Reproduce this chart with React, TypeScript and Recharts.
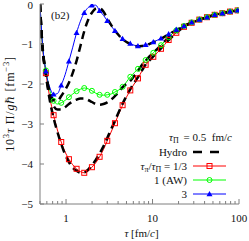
import React from 'react'
import { LineChart, Line, XAxis, YAxis, Label } from 'recharts'

// tau grid [fm/c], log-spaced; every marker point plus half steps early on
const tau = [
  0.5, 0.528, 0.585, 0.648, 0.718, 0.795, 0.88, 0.975, 1.08, 1.196, 1.324, 1.467, 1.624, 1.799,
  1.992, 2.206, 2.444, 2.706, 2.998, 3.32, 3.677, 4.073, 4.51, 4.995, 5.533, 6.127, 6.786, 7.516,
  8.325, 9.22, 10.21, 12.53, 15.36, 18.84, 23.11, 28.35, 34.78, 42.66, 52.33, 64.19, 78.74, 96.5, 100,
]
// points that carry a symbol
const markTau = [
  0.585, 0.718, 0.88, 1.08, 1.324, 1.624, 1.992, 2.444, 2.998, 3.677, 4.51, 5.533, 6.786, 8.325,
  10.21, 12.53, 15.36, 18.84, 23.11, 28.35, 34.78, 42.66, 52.33, 64.19, 78.74, 96.5,
]

// tau_pi/tau_Pi = 1/3
const kinRed = [
  0, -0.92, -1.73, -2.33, -2.78, -3.15, -3.45, -3.7, -3.88, -4.02, -4.12, -4.19, -4.22, -4.18,
  -4.08, -3.97, -3.82, -3.64, -3.42, -3.2, -2.98, -2.75, -2.53, -2.33, -2.16, -2.0, -1.86, -1.68,
  -1.52, -1.42, -1.32, -1.12, -0.9, -0.72, -0.57, -0.47, -0.39, -0.33, -0.27, -0.23, -0.19, -0.16, -0.155,
]
const hydroRed = [
  0, -0.95, -1.78, -2.4, -2.85, -3.2, -3.5, -3.76, -3.95, -4.09, -4.17, -4.22, -4.21, -4.14,
  -4.03, -3.9, -3.74, -3.56, -3.35, -3.13, -2.92, -2.7, -2.49, -2.3, -2.13, -1.97, -1.83, -1.67,
  -1.51, -1.41, -1.31, -1.11, -0.9, -0.72, -0.57, -0.47, -0.39, -0.33, -0.27, -0.23, -0.19, -0.16, -0.155,
]
// 1 (AW)
const kinGreen = [
  0, -0.88, -1.66, -2.15, -2.42, -2.5, -2.47, -2.41, -2.33, -2.25, -2.18, -2.13, -2.1, -2.12,
  -2.17, -2.23, -2.27, -2.28, -2.27, -2.25, -2.2, -2.15, -2.07, -1.95, -1.82, -1.72, -1.62, -1.5,
  -1.4, -1.31, -1.22, -1.03, -0.83, -0.66, -0.55, -0.46, -0.39, -0.33, -0.27, -0.23, -0.19, -0.16, -0.155,
]
const hydroGreen = [
  0, -0.92, -1.75, -2.28, -2.55, -2.64, -2.64, -2.58, -2.5, -2.44, -2.39, -2.36, -2.36, -2.4,
  -2.45, -2.5, -2.52, -2.5, -2.46, -2.39, -2.3, -2.2, -2.08, -2.0, -1.92, -1.8, -1.68, -1.53,
  -1.42, -1.31, -1.22, -1.03, -0.83, -0.66, -0.55, -0.46, -0.39, -0.33, -0.27, -0.23, -0.19, -0.16, -0.155,
]
// 3
const kinBlue = [
  0, -0.85, -1.68, -2.08, -2.26, -2.24, -2.03, -1.77, -1.43, -1.08, -0.72, -0.43, -0.22, -0.09,
  -0.03, -0.03, -0.17, -0.28, -0.42, -0.55, -0.67, -0.78, -0.87, -0.94, -0.99, -1.03, -1.05, -1.04,
  -1.02, -0.99, -0.95, -0.86, -0.75, -0.64, -0.55, -0.46, -0.39, -0.33, -0.27, -0.23, -0.19, -0.16, -0.155,
]
const hydroBlue = [
  0, -0.9, -1.72, -2.2, -2.4, -2.42, -2.3, -2.15, -1.97, -1.72, -1.42, -1.05, -0.68, -0.4,
  -0.22, -0.12, -0.11, -0.19, -0.36, -0.52, -0.66, -0.78, -0.88, -0.95, -1.0, -1.04, -1.06, -1.05,
  -1.03, -1.0, -0.96, -0.87, -0.76, -0.65, -0.55, -0.47, -0.4, -0.33, -0.28, -0.23, -0.19, -0.16, -0.155,
]

const xTicks = [0.5, 0.6, 0.7, 0.8, 0.9, 1, 2, 3, 4, 5, 6, 7, 8, 9, 10, 20, 30, 40, 50, 60, 70, 80, 90, 100]
const xLabels = [1, 10, 100]
const yTicks = [-5, -4, -3, -2, -1, 0]

const data = tau.map((t, i) => ({
  tau: t,
  kinRed: kinRed[i],
  hydroRed: hydroRed[i],
  kinGreen: kinGreen[i],
  hydroGreen: hydroGreen[i],
  kinBlue: kinBlue[i],
  hydroBlue: hydroBlue[i],
}))

const FRAME = '#7f7f7f'
const RED = '#ff0000'
const GREEN = '#00ff00'
const BLUE = '#0000ff'
const SERIF = '"Liberation Serif", "DejaVu Serif", serif'
const DASH = '8 5'

const fmt = (v: number) => (v < 0 ? '\u2212' + Math.abs(v) : String(v))

const BottomTick = (props: any) => {
  const { x, y, payload } = props
  const major = xLabels.includes(payload.value)
  return (
    <g>
      <line x1={x} x2={x} y1={y} y2={y - (major ? 5 : 3)} stroke={FRAME} />
      {major && (
        <text x={x} y={y + 18} textAnchor='middle' fontFamily={SERIF} fontSize={11} fill='#111'>
          {payload.value}
        </text>
      )}
    </g>
  )
}

const TopTick = (props: any) => {
  const { x, y, payload } = props
  const major = xLabels.includes(payload.value)
  return <line x1={x} x2={x} y1={y} y2={y + (major ? 5 : 3)} stroke={FRAME} />
}

const LeftTick = (props: any) => {
  const { x, y, payload } = props
  return (
    <g>
      <line x1={x} x2={x + 4} y1={y} y2={y} stroke={FRAME} />
      <text x={x - 7} y={Math.max(y + 4, 9)} textAnchor='end' fontFamily={SERIF} fontSize={11} fill='#111'>
        {fmt(payload.value)}
      </text>
    </g>
  )
}

const RightTick = (props: any) => {
  const { x, y } = props
  return <line x1={x} x2={x - 4} y1={y} y2={y} stroke={FRAME} />
}

const marker = (shape: string, color: string) => (p: any) => {
  const k = `${shape}-${p.index}`
  if (p.cx == null || p.cy == null || !markTau.includes(p.payload.tau)) return <g key={k} />
  return <Symbol key={k} shape={shape} color={color} cx={p.cx} cy={p.cy} />
}

const Symbol = ({ shape, color, cx, cy }: any) => {
  if (shape === 'square')
    return <rect x={cx - 2.5} y={cy - 2.5} width={5} height={5} fill='none' stroke={color} strokeWidth={1} />
  if (shape === 'circle') return <circle cx={cx} cy={cy} r={2.5} fill='none' stroke={color} strokeWidth={1} />
  return <path d={`M${cx},${cy - 3}L${cx + 3},${cy + 2.2}L${cx - 3},${cy + 2.2}Z`} fill={color} />
}

const YTitle = (props: any) => {
  const vb = props.viewBox
  const cx = vb.x + 10
  const cy = vb.y + vb.height / 2
  return (
    <text
      x={cx}
      y={cy}
      transform={`rotate(-90 ${cx} ${cy})`}
      textAnchor='middle'
      dominantBaseline='central'
      fontFamily={SERIF}
      fontSize={12}
      letterSpacing={0.8}
      fill='#111'
    >
      10
      <tspan fontSize={8.5} dy={-4}>3</tspan>
      <tspan fontStyle='italic' dy={4}>τ</tspan>
      <tspan> Π/</tspan>
      <tspan fontStyle='italic'>gℏ</tspan>
      <tspan> [fm</tspan>
      <tspan fontSize={8.5} dy={-4}>−3</tspan>
      <tspan dy={4}>]</tspan>
    </text>
  )
}

const XTitle = (props: any) => {
  const vb = props.viewBox
  return (
    <text x={vb.x + vb.width / 2 + 2} y={vb.y + 33} textAnchor='middle' fontFamily={SERIF} fontSize={11} fill='#111'>
      <tspan fontStyle='italic'>τ</tspan>
      <tspan> [fm/</tspan>
      <tspan fontStyle='italic'>c</tspan>
      <tspan>]</tspan>
    </text>
  )
}

const Sub = ({ children }: any) => (
  <span style={{ fontSize: 8, verticalAlign: '-2px', lineHeight: 0 }}>{children}</span>
)

const legendRows = [
  { y: 152, text: <>Hydro</>, kind: 'hydro' },
  {
    y: 166,
    text: (
      <>
        <i>τ</i>
        <Sub>π</Sub>/<i>τ</i>
        <Sub>Π</Sub>
        {' = 1/3'}
      </>
    ),
    kind: 'square',
    color: RED,
  },
  { y: 180, text: <>1 (AW)</>, kind: 'circle', color: GREEN },
  { y: 194, text: <>3</>, kind: 'triangle', color: BLUE },
]

const Overlay = () => (
  <div
    style={{
      position: 'absolute',
      left: 0,
      top: 0,
      width: 249,
      height: 241,
      pointerEvents: 'none',
      fontFamily: SERIF,
      fontSize: 11,
      color: '#111',
    }}
  >
    <div style={{ position: 'absolute', left: 51, top: 8, lineHeight: '14px' }}>(b2)</div>
    <div
      style={{ position: 'absolute', right: 17, top: 130, lineHeight: '14px', whiteSpace: 'nowrap', textAlign: 'right' }}
    >
      <i>τ</i>
      <Sub>Π</Sub>
      {' \u2009= 0.5\u2002fm/'}
      <i>c</i>
    </div>
    {legendRows.map((r, i) => (
      <React.Fragment key={i}>
        <div
          style={{
            position: 'absolute',
            right: 62,
            top: r.y - 7,
            lineHeight: '14px',
            whiteSpace: 'nowrap',
            textAlign: 'right',
          }}
        >
          {r.text}
        </div>
        <svg style={{ position: 'absolute', left: 192, top: r.y - 5 }} width={36} height={10}>
          {r.kind === 'hydro' ? (
            <line x1={1} x2={34} y1={5} y2={5} stroke='#000' strokeWidth={2.5} strokeDasharray='9 8' />
          ) : (
            <>
              <line x1={1} x2={34} y1={5} y2={5} stroke={r.color} strokeWidth={1} />
              <Symbol shape={r.kind} color={r.color} cx={17.5} cy={5} />
            </>
          )}
        </svg>
      </React.Fragment>
    ))}
  </div>
)

const App = () => {
  return (
    <div style={{ position: 'absolute', left: 0, top: 0, width: 249, height: 241, background: '#fff' }}>
      <LineChart width={249} height={241} data={data} margin={{ top: 4, right: 10, bottom: 0, left: 0 }}>
        <XAxis
          dataKey='tau'
          type='number'
          scale='log'
          domain={[0.5, 100]}
          allowDataOverflow
          ticks={xTicks}
          interval={0}
          height={37}
          tickSize={0}
          tickMargin={0}
          tickLine={false}
          axisLine={{ stroke: FRAME }}
          tick={<BottomTick />}
        >
          <Label content={<XTitle />} />
        </XAxis>
        <XAxis
          xAxisId='top'
          orientation='top'
          dataKey='tau'
          type='number'
          scale='log'
          domain={[0.5, 100]}
          allowDataOverflow
          ticks={xTicks}
          interval={0}
          height={0}
          tickSize={0}
          tickMargin={0}
          tickLine={false}
          axisLine={{ stroke: FRAME }}
          tick={<TopTick />}
        />
        <YAxis
          type='number'
          domain={[-5, 0]}
          allowDataOverflow
          ticks={yTicks}
          interval={0}
          width={40}
          tickSize={0}
          tickMargin={0}
          tickLine={false}
          axisLine={{ stroke: FRAME }}
          tick={<LeftTick />}
        >
          <Label content={<YTitle />} />
        </YAxis>
        <YAxis
          yAxisId='right'
          orientation='right'
          type='number'
          domain={[-5, 0]}
          allowDataOverflow
          ticks={yTicks}
          interval={0}
          width={0}
          tickSize={0}
          tickMargin={0}
          tickLine={false}
          axisLine={{ stroke: FRAME }}
          tick={<RightTick />}
        />

        <Line type='monotone' dataKey='kinRed' stroke={RED} strokeWidth={1} dot={false} isAnimationActive={false} />
        <Line type='monotone' dataKey='kinGreen' stroke={GREEN} strokeWidth={1} dot={false} isAnimationActive={false} />
        <Line type='monotone' dataKey='kinBlue' stroke={BLUE} strokeWidth={1} dot={false} isAnimationActive={false} />

        <Line type='monotone' dataKey='hydroRed' stroke='#000' strokeWidth={2.5} strokeDasharray={DASH} dot={false} isAnimationActive={false} />
        <Line type='monotone' dataKey='hydroGreen' stroke='#000' strokeWidth={2.5} strokeDasharray={DASH} dot={false} isAnimationActive={false} />
        <Line type='monotone' dataKey='hydroBlue' stroke='#000' strokeWidth={2.5} strokeDasharray={DASH} dot={false} isAnimationActive={false} />

        <Line xAxisId='top' yAxisId='right' dataKey='kinRed' stroke='none' dot={marker('square', RED)} activeDot={false} isAnimationActive={false} />
        <Line xAxisId='top' yAxisId='right' dataKey='kinGreen' stroke='none' dot={marker('circle', GREEN)} activeDot={false} isAnimationActive={false} />
        <Line xAxisId='top' yAxisId='right' dataKey='kinBlue' stroke='none' dot={marker('triangle', BLUE)} activeDot={false} isAnimationActive={false} />
      </LineChart>
      <Overlay />
    </div>
  )
}

export default App
